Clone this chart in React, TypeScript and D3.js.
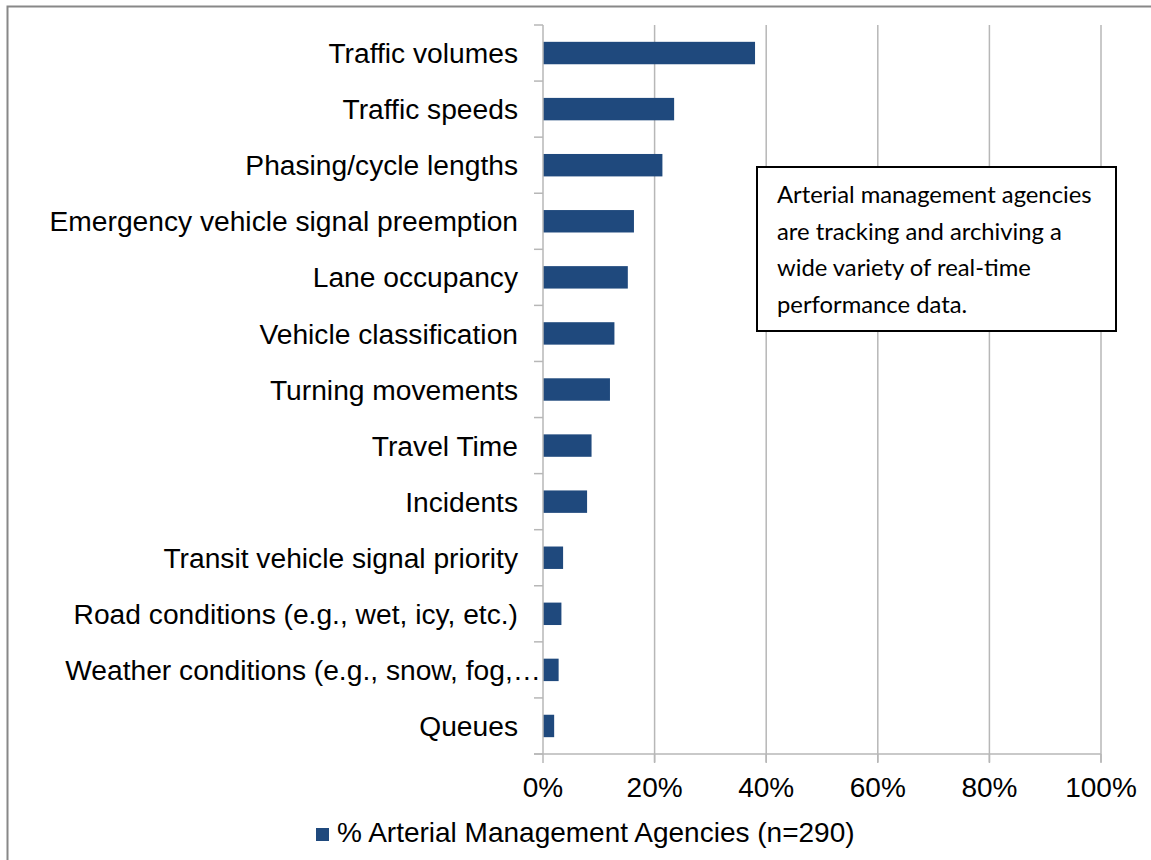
import React, { useEffect, useRef } from 'react'
import * as d3 from 'd3'

const categories = [
  'Traffic volumes',
  'Traffic speeds',
  'Phasing/cycle lengths',
  'Emergency vehicle signal preemption',
  'Lane occupancy',
  'Vehicle classification',
  'Turning movements',
  'Travel Time',
  'Incidents',
  'Transit vehicle signal priority',
  'Road conditions (e.g., wet, icy, etc.)',
  'Weather conditions (e.g., snow, fog,…',
  'Queues',
]

const values = [38.0, 23.5, 21.4, 16.3, 15.2, 12.8, 12.0, 8.7, 7.9, 3.6, 3.3, 2.8, 2.0]

const xTicks = [0, 20, 40, 60, 80, 100]

const seriesName = '% Arterial Management Agencies (n=290)'

const noteLines = [
  'Arterial management agencies',
  'are tracking and archiving a',
  'wide variety of real-time',
  'performance data.',
]

const W = 1151
const H = 860
const BAR = '#1f497d'
const GRID = '#b7b7b7'
const FONT = '"Liberation Sans", Arial, sans-serif'

const App: React.FC = () => {
  const ref = useRef<SVGSVGElement>(null)

  useEffect(() => {
    const svg = d3.select(ref.current)
    svg.selectAll('*').remove()

    const left = 543
    const right = 1101
    const top = 25
    const bottom = 754

    const x = d3.scaleLinear().domain([0, 100]).range([left, right])
    const y = d3
      .scaleBand<string>()
      .domain(categories)
      .range([top, bottom])
      .paddingInner(0.6)
      .paddingOuter(0.3)

    // outer chart border (only top/left visible in the crop)
    svg
      .append('path')
      .attr('d', `M7.5,${H} V6.5 H${W}`)
      .attr('fill', 'none')
      .attr('stroke', '#888')
      .attr('stroke-width', 2)

    // gridlines
    svg
      .append('g')
      .selectAll('line')
      .data(xTicks.slice(1))
      .enter()
      .append('line')
      .attr('x1', (d) => x(d))
      .attr('x2', (d) => x(d))
      .attr('y1', top)
      .attr('y2', bottom + 8)
      .attr('stroke', GRID)
      .attr('stroke-width', 1.5)

    // bars
    svg
      .append('g')
      .selectAll('rect')
      .data(values)
      .enter()
      .append('rect')
      .attr('x', x(0))
      .attr('y', (_, i) => y(categories[i]) as number)
      .attr('width', (d) => x(d) - x(0))
      .attr('height', y.bandwidth())
      .attr('fill', BAR)

    // category axis
    const step = y.step()
    const boundaries = d3.range(categories.length + 1).map((i) => top + i * step)
    svg
      .append('line')
      .attr('x1', left)
      .attr('x2', left)
      .attr('y1', top)
      .attr('y2', bottom)
      .attr('stroke', GRID)
      .attr('stroke-width', 1.5)
    svg
      .append('g')
      .selectAll('line')
      .data(boundaries)
      .enter()
      .append('line')
      .attr('x1', left - 9)
      .attr('x2', left)
      .attr('y1', (d) => d)
      .attr('y2', (d) => d)
      .attr('stroke', GRID)
      .attr('stroke-width', 1.5)

    svg
      .append('g')
      .selectAll('text')
      .data(categories)
      .enter()
      .append('text')
      .attr('x', (d) => (d.endsWith('…') ? left - 2 : left - 25))
      .attr('y', (d) => (y(d) as number) + y.bandwidth() / 2)
      .attr('dy', '0.36em')
      .attr('text-anchor', 'end')
      .attr('font-family', FONT)
      .attr('font-size', 28.2)
      .attr('fill', '#000')
      .text((d) => d)

    // value axis
    svg
      .append('line')
      .attr('x1', left - 9)
      .attr('x2', right)
      .attr('y1', bottom)
      .attr('y2', bottom)
      .attr('stroke', GRID)
      .attr('stroke-width', 1.5)
    svg
      .append('g')
      .selectAll('line')
      .data(xTicks)
      .enter()
      .append('line')
      .attr('x1', (d) => x(d))
      .attr('x2', (d) => x(d))
      .attr('y1', bottom)
      .attr('y2', bottom + 9)
      .attr('stroke', GRID)
      .attr('stroke-width', 1.5)
    svg
      .append('g')
      .selectAll('text')
      .data(xTicks)
      .enter()
      .append('text')
      .attr('x', (d) => x(d))
      .attr('y', 797)
      .attr('text-anchor', 'middle')
      .attr('font-family', FONT)
      .attr('font-size', 28)
      .attr('fill', '#000')
      .text((d) => `${d}%`)

    // legend
    const legend = svg.append('g')
    legend
      .append('rect')
      .attr('x', 316)
      .attr('y', 828)
      .attr('width', 13)
      .attr('height', 13)
      .attr('fill', BAR)
    legend
      .append('text')
      .attr('x', 337)
      .attr('y', 842)
      .attr('font-family', FONT)
      .attr('font-size', 28)
      .attr('fill', '#000')
      .text(seriesName)

    // annotation box
    const note = svg.append('g')
    note
      .append('rect')
      .attr('x', 757)
      .attr('y', 167)
      .attr('width', 359)
      .attr('height', 164)
      .attr('fill', '#fff')
      .attr('stroke', '#000')
      .attr('stroke-width', 2)
    note
      .selectAll('text')
      .data(noteLines)
      .enter()
      .append('text')
      .attr('x', 777)
      .attr('y', (_, i) => 203 + i * 36.5)
      .attr('font-family', 'Lato, "Open Sans", sans-serif')
      .attr('font-size', 23.8)
      .attr('fill', '#000')
      .text((d) => d)
  }, [])

  return (
    <svg
      ref={ref}
      width={W}
      height={H}
      style={{ position: 'absolute', top: 0, left: 0, background: '#fff' }}
    />
  )
}

export default App
